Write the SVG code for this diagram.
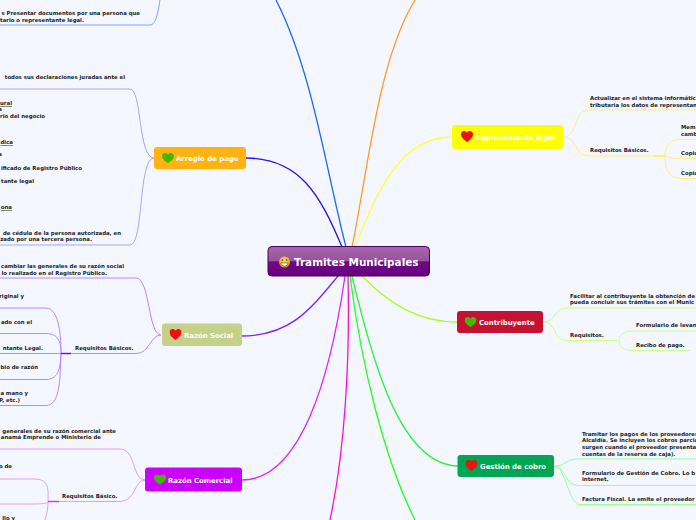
<svg xmlns="http://www.w3.org/2000/svg" width="696" height="520" viewBox="0 0 696 520">
<style>
text{font-family:"DejaVu Sans",sans-serif}
.t{font-size:5.38px;font-weight:700;fill:#222}
.e{text-anchor:end}
.u{text-decoration:underline}
.n{font-size:6.9px;font-weight:700;fill:#fff}
.c{font-size:10.45px;font-weight:700;fill:#fff}
path{fill:none}
.m{stroke-width:1.3}
.s{stroke-width:1}
.d{stroke-width:1.4}
</style>
<defs>
<linearGradient id="g" x1="0" y1="0" x2="0" y2="1"><stop offset="0" stop-color="#a666ac"/><stop offset=".48" stop-color="#9a539f"/><stop offset=".52" stop-color="#6f0a80"/><stop offset="1" stop-color="#680080"/></linearGradient>
<radialGradient id="f" cx=".5" cy=".35" r=".7"><stop offset="0" stop-color="#ffdd55"/><stop offset="1" stop-color="#e09010"/></radialGradient>
<symbol id="hr" viewBox="0 0 12 11"><path d="M6 11C3 8.600 0 6.400 0 3.200 0 1.200 1.600 0 3.200 0 4.400 0 5.400.6 6 1.600 6.600.6 7.600 0 8.800 0 10.400 0 12 1.200 12 3.200 12 6.400 9 8.600 6 11Z" style="fill:#ee1111"/></symbol>
<symbol id="hg" viewBox="0 0 12 10"><path d="M6 10C3 8 0 6 0 3 0 1.200 1.600 0 3.200 0 4.400 0 5.400.6 6 1.400 6.600.6 7.600 0 8.800 0 10.400 0 12 1.200 12 3 12 6 9 8 6 10Z" style="fill:#44b800"/></symbol>
</defs>
<rect width="696" height="520" fill="#f4f7ff"/>
<g id="connectors">
<g class="m">
<path d="M346 247C326 170 312 70 276 0" stroke="#1a66ff"/>
<path d="M342 247C320 195 300 158 246 158" stroke="#2a10ee"/>
<path d="M352 247C368 170 378 60 415 0" stroke="#ff9a2e"/>
<path d="M355 247C378 190 400 137 452 137" stroke="#ffff40"/>
<path d="M338 276C310 310 290 336 241 336" stroke="#7a22ff"/>
<path d="M345 276C330 380 300 480 242 480" stroke="#dd22ff"/>
<path d="M348 276C350 360 345 450 330 520" stroke="#ff10cc"/>
<path d="M352 276C372 360 400 465 458 466" stroke="#33ee44"/>
<path d="M350 276C362 370 385 460 415 520" stroke="#22ff22"/>
<path d="M362 276C390 305 420 322 457 322" stroke="#aaff22"/>
</g>
<g class="s" stroke="#7f9fff"><path d="M0 25H150C156 25 158 12 160 0"/></g>
<g class="s" stroke="#a8a4ff">
<path d="M154 158C138 158 142 89 130 89H0"/>
<path d="M154 158C138 158 144 245 130 245H0"/>
</g>
<g class="s" stroke="#bb88ff">
<path d="M161 335C148 335 150 278 136 278H0"/>
<path d="M161 335C150 335 150 353.500 136 353.500H71"/>
<path d="M61 353.500C61 340 60 308 46 308H0"/>
<path d="M61 353.500C61 345 60 333.500 46 333.500H0"/>
<path d="M61 353.500H0"/>
<path d="M61 353.500C60 365 60 379.500 46 379.500H0"/>
<path d="M61 353.500C60 380 60 405.500 46 405.500H0"/>
</g>
<path class="d" d="M61 353.500H71" stroke="#7700ee"/>
<g class="s" stroke="#e59aff">
<path d="M145 480C132 480 136 449 120 449H0"/>
<path d="M145 480C134 480 136 501.500 120 501.500H59"/>
<path d="M48 501.500C48 490 50 479 34 479H0"/>
<path d="M48 501.500C48 503 44 504 34 504H0"/>
<path d="M48 501.500C48 508 47 514 45 520"/>
</g>
<path class="d" d="M48 501.500H59" stroke="#cc33ff"/>
<g class="s" stroke="#fff07a">
<path d="M563 137C578 137 574 110 588 110H696"/>
<path d="M563 137C578 137 574 156 588 156H654"/>
<path d="M665 156C665 148 668 139.500 680 139.500H696"/>
<path d="M665 156C670 158 674 158.500 680 158.500H696"/>
<path d="M665 156C665 168 668 178.500 680 178.500H696"/>
</g>
<path class="d" d="M654 156H665" stroke="#ffee44"/>
<g class="s" stroke="#ccff88">
<path d="M543 322C558 322 552 308 567 308H696"/>
<path d="M543 322C558 322 552 340.500 567 340.500H619"/>
<path d="M619 340.500C619 336 622 331 634 331H696"/>
<path d="M619 340.500C619 346 622 350.500 634 350.500H690"/>
</g>
<g class="s" stroke="#99ff99">
<path d="M554 466C566 466 566 459 578 459H696"/>
<path d="M554 466C566 466 564 485.500 578 485.500H696"/>
<path d="M554 466C566 466 568 504.500 580 504.500H696"/>
</g>
</g>
<g id="central"><rect x="268" y="246.500" width="161.500" height="29.500" rx="4" fill="url(#g)" stroke="#4a0060"/>
<circle cx="284.500" cy="262" r="5.500" fill="url(#f)"/><circle cx="282.500" cy="260" r=".8" fill="#333"/><circle cx="286.500" cy="260" r=".8" fill="#333"/><path d="M281 263H288C288 267 281 267 281 263Z" style="fill:#fff;stroke:#333;stroke-width:.5"/>
<text class="c" x="294" y="266">Tramites Municipales</text></g>
<g id="arreglo"><rect x="154" y="147" width="92" height="22" rx="3" fill="#ffb310"/><use href="#hg" x="162" y="153" width="12" height="10"/><text class="n" x="176" y="160.500">Arreglo de pago</text></g>
<g id="razon-social"><rect x="162" y="323.500" width="80" height="22.500" rx="3" fill="#c5d088"/><use href="#hr" x="169.500" y="329" width="12" height="11"/><text class="n" x="184" y="337.500">Razón Social</text></g>
<g id="razon-comercial"><rect x="145" y="467.500" width="97" height="24" rx="3" fill="#cc00ff"/><use href="#hg" x="154" y="474.500" width="12" height="10"/><text class="n" x="168" y="482.500">Razón Comercial</text></g>
<g id="representante"><rect x="452" y="125" width="111" height="24" rx="3" fill="#ffff00"/><use href="#hr" x="461" y="131" width="12" height="11"/><text class="n" x="476" y="139.500">Representante legal</text></g>
<g id="contribuyente"><rect x="457" y="311" width="86" height="22" rx="3" fill="#c41230"/><use href="#hg" x="464.500" y="317" width="12" height="10"/><text class="n" x="479" y="325">Contribuyente</text></g>
<g id="gestion"><rect x="457.500" y="455" width="96.500" height="22" rx="3" fill="#00a651"/><use href="#hr" x="465.500" y="460" width="12" height="11"/><text class="n" x="480" y="469">Gestión de cobro</text></g>
<g id="labels-left">
<text class="t e" x="140" y="15">s Presentar documentos por una persona que</text>
<text class="t e" x="84" y="22">tario o representante legal.</text>
<text class="t e" x="125" y="79">todos sus declaraciones juradas ante el</text>
<text class="t e u" x="12" y="105">ural</text>
<text class="t e" x="2" y="111">a</text>
<text class="t e" x="45" y="118">rio del negocio</text>
<text class="t e u" x="13" y="144">dica</text>
<text class="t e" x="2" y="156">a</text>
<text class="t e" x="82" y="170">ificado de Registro Público</text>
<text class="t e" x="34" y="183">tante legal</text>
<text class="t e u" x="12" y="209">ona</text>
<text class="t e" x="121" y="235">de cédula de la persona autorizada, en</text>
<text class="t e" x="92" y="241">zado por una tercera persona.</text>
<text class="t e" x="124" y="268">cambiar las generales de su razón social</text>
<text class="t e" x="107" y="275">lo realizado en el Registro Público.</text>
<text class="t" x="75" y="350">Requisitos Básicos.</text>
<text class="t e" x="24" y="298">riginal y</text>
<text class="t e" x="32" y="324">ado con el</text>
<text class="t e" x="43" y="350">ntante Legal.</text>
<text class="t e" x="38" y="369">bio de razón</text>
<text class="t e" x="28" y="395">a mano y</text>
<text class="t e" x="20" y="402">P, etc.)</text>
<text class="t e" x="116" y="433">generales de su razón comercial ante</text>
<text class="t e" x="101" y="439">anamá Emprende o Ministerio de</text>
<text class="t e" x="12" y="468">o de</text>
<text class="t" x="62" y="498">Requisitos Básico.</text>
<text class="t e" x="15" y="520">llo y</text>
</g>
<g id="labels-right">
<text class="t" x="590" y="100">Actualizar en el sistema informátic</text>
<text class="t" x="590" y="106.500">tributaria los datos de representan</text>
<text class="t" x="590" y="152">Requisitos Básicos.</text>
<text class="t" x="681" y="129">Mem</text>
<text class="t" x="681" y="136">camb</text>
<text class="t" x="681" y="155">Copia</text>
<text class="t" x="681" y="175">Copia</text>
<text class="t" x="570" y="298">Facilitar al contribuyente la obtención de</text>
<text class="t" x="570" y="304">pueda concluir sus trámites con el Munic</text>
<text class="t" x="570" y="337">Requisitos.</text>
<text class="t" x="636" y="327">Formulario de levan</text>
<text class="t" x="636" y="347">Recibo de pago.</text>
<text class="t" x="582" y="436">Tramitar los pagos de los proveedores</text>
<text class="t" x="582" y="442">Alcaldía. Se incluyen los cobros parcia</text>
<text class="t" x="582" y="449">surgen cuando el proveedor presenta</text>
<text class="t" x="582" y="455.500">cuentas de la reserva de caja).</text>
<text class="t" x="582" y="475">Formulario de Gestión de Cobro. Lo b</text>
<text class="t" x="582" y="481">internet.</text>
<text class="t" x="582" y="501">Factura Fiscal. La emite el proveedor</text>
</g>
</svg>
